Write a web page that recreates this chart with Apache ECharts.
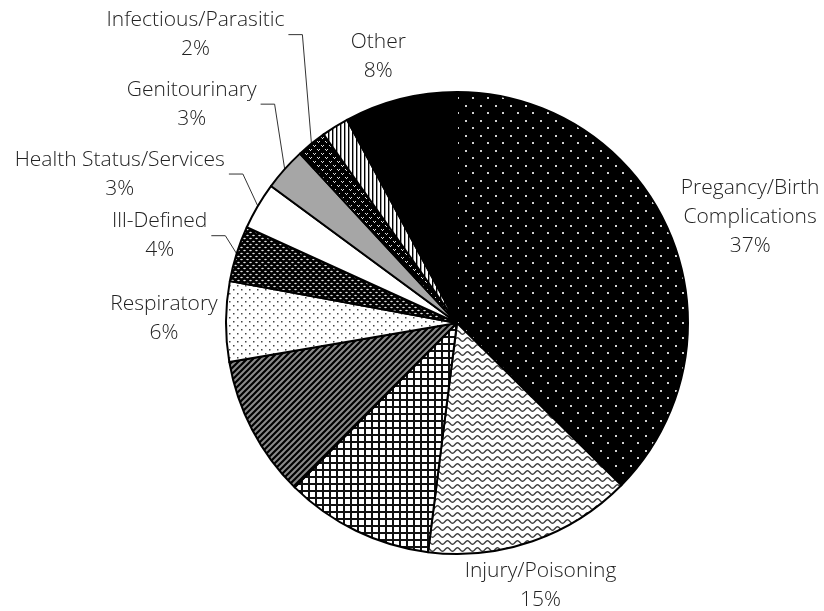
<!DOCTYPE html>
<html><head><meta charset="utf-8">
<script src="https://cdn.jsdelivr.net/npm/echarts@6/dist/echarts.min.js"></script>
<style>html,body{margin:0;padding:0;background:#fff}#c{width:824px;height:611px}</style>
</head><body><div id="c"></div>
<script>
// ---- data ----
const categories = ['Pregancy/Birth Complications','Injury/Poisoning','Unlabeled A','Unlabeled B','Respiratory','Ill-Defined','Health Status/Services','Genitourinary','Infectious/Parasitic','Unlabeled C','Other'];
const labelNames = ['Pregancy/Birth\nComplications','Injury/Poisoning',null,null,'Respiratory','Ill-Defined','Health Status/Services','Genitourinary','Infectious/Parasitic',null,'Other'];
const values = [37.4, 14.6, 10.4, 9.9, 5.6, 3.9, 3.3, 3.0, 2.1, 1.9, 7.9];

// ---- style ----
const CX = 457, CY = 323, R = 231;
const FONT = '"Open Sans", "Liberation Sans", sans-serif';
const labelOffset = [[80,-17],[8,44],null,null,[-62,-3],[-77,-18],[-138,-32],[-93,-65],[-116,-109],null,[-22,-43]];
const hasLeader = [false,false,false,false,false,true,true,true,true,false,false];

function mk(w,h,draw){const c=document.createElement('canvas');c.width=w;c.height=h;const g=c.getContext('2d');draw(g,w,h);return c;}
const pat = c => ({image:c, repeat:'repeat'});
const fills = [
  pat(mk(15,15,g=>{g.fillStyle='#000';g.fillRect(0,0,15,15);g.fillStyle='#d0d0d0';g.fillRect(0,0,2,2);g.fillRect(7,7,2,2);})),
  pat(mk(10,7,g=>{g.fillStyle='#fff';g.fillRect(0,0,10,7);g.strokeStyle='#3a3a3a';g.lineWidth=1.4;g.beginPath();
     for(let x=-1;x<=11;x+=0.5){const y=3.5+1.7*Math.sin(2*Math.PI*x/10);x===-1?g.moveTo(x,y):g.lineTo(x,y);}g.stroke();})),
  pat(mk(7,7,g=>{g.fillStyle='#fff';g.fillRect(0,0,7,7);g.fillStyle='#111';g.fillRect(0,0,7,2);g.fillRect(0,0,2,7);})),
  pat(mk(6,6,g=>{g.fillStyle='#8a8a8a';g.fillRect(0,0,6,6);g.strokeStyle='#000';g.lineWidth=2.2;g.beginPath();
     g.moveTo(0,6);g.lineTo(6,0);g.moveTo(-3,3);g.lineTo(3,-3);g.moveTo(3,9);g.lineTo(9,3);g.stroke();})),
  pat(mk(8,8,g=>{g.fillStyle='#fff';g.fillRect(0,0,8,8);g.fillStyle='#444';g.fillRect(1,1,1.5,1.5);g.fillRect(5,5,1.5,1.5);})),
  pat(mk(6,6,g=>{g.fillStyle='#000';g.fillRect(0,0,6,6);g.fillStyle='#e0e0e0';
     g.beginPath();g.ellipse(1.5,1.5,1.3,0.8,0,0,Math.PI*2);g.fill();g.beginPath();g.ellipse(4.5,4.5,1.3,0.8,0,0,Math.PI*2);g.fill();})),
  '#ffffff',
  '#a6a6a6',
  pat(mk(8,8,g=>{g.fillStyle='#000';g.fillRect(0,0,8,8);g.fillStyle='#e0e0e0';
     [[1,1],[5,5]].forEach(([x,y])=>{g.fillRect(x,y,1,1);g.fillRect(x+1,y+1,1,1);g.fillRect(x+2,y,1,1);});})),
  pat(mk(4,1,g=>{g.fillStyle='#fff';g.fillRect(0,0,4,1);g.fillStyle='#000';g.fillRect(0,0,1.4,1);})),
  '#000000'
];

const total = values.reduce((a,b)=>a+b,0);
const cum = []; values.reduce((a,v,i)=>{cum[i]=a;return a+v;},0);
function edgePoint(i){const t=(cum[i]+values[i]/2)/total*Math.PI*2;return [CX+R*Math.sin(t), CY-R*Math.cos(t)];}

const data = values.map((v,i)=>({
  name: categories[i], value: v,
  itemStyle:{color: fills[i]},
  label:{show: labelNames[i]!==null},
  labelLine:{show: hasLeader[i], lineStyle:{color:'#333', width:1}}
}));

const chart = echarts.init(document.getElementById('c'), null, {renderer:'canvas'});
chart.setOption({
  animation:false,
  backgroundColor:'#fff',
  series:[{
    type:'pie', center:[CX,CY], radius:R, startAngle:90, clockwise:true,
    avoidLabelOverlap:false, silent:true,
    itemStyle:{borderColor:'#000', borderWidth:2},
    label:{position:'outside',
      formatter: p => {
        const n = labelNames[p.dataIndex];
        if(n===null) return '';
        return n.split('\n').map(s=>'{c|'+s+'}').join('\n') + '\n{c|' + Math.round(p.value) + '%}';
      },
      rich:{c:{align:'center', fontFamily:FONT, fontSize:21, fontWeight:300, color:'#222', lineHeight:29}}
    },
    labelLine:{show:false},
    labelLayout: function(params){
      const i = params.dataIndex, off = labelOffset[i];
      if(!off) return {};
      const e = edgePoint(i);
      const x = e[0]+off[0], y = e[1]+off[1];
      const res = {x:x, y:y, align:'center', verticalAlign:'middle'};
      if(hasLeader[i]){
        const w = params.labelRect.width;
        const p2 = [x + w/2 + 4, y];
        const p1 = [p2[0] + 14, y];
        res.labelLinePoints = [e, p1, p2];
      }
      return res;
    },
    data: data
  }]
});
</script></body></html>
